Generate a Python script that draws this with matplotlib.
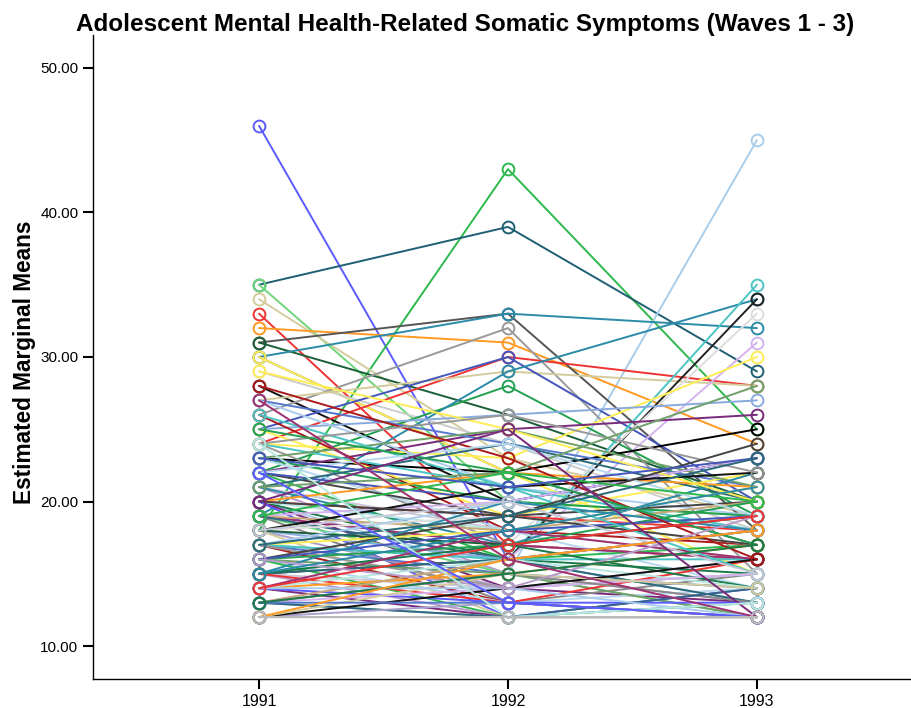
import matplotlib
matplotlib.use("Agg")
import matplotlib.pyplot as plt

plt.rcParams['font.family'] = ['Liberation Sans', 'DejaVu Sans']

waves = [1991, 1992, 1993]

# Per-subject scores for each wave (same index = same subject)
wave1 = [46, 18, 35, 35, 20, 34, 33, 32, 31, 31,
         30, 30, 30, 29, 28, 26, 24, 27, 22, 25,
         19, 17, 15, 14, 13, 24, 25, 23, 22, 27,
         27, 26, 25, 24, 24, 23, 23, 23, 22, 22,
         22, 21, 21, 21, 21, 20, 20, 20, 20, 20,
         20, 19, 19, 19, 19, 19, 19, 18, 18, 18,
         18, 18, 18, 17, 17, 17, 17, 17, 17, 16,
         16, 16, 16, 16, 16, 15, 15, 15, 15, 15,
         15, 14, 14, 14, 14, 14, 13, 13, 13, 13,
         13, 12, 12, 12, 12, 12, 12, 13, 14, 28,
         29, 26, 24, 25, 22, 21, 20, 19, 23, 18,
         17, 16, 15, 14, 13, 12, 20, 24, 22, 27,
         12, 12]
wave2 = [16, 43, 39, 20, 15, 23, 17, 31, 33, 26,
         33, 22, 22, 24, 20, 32, 30, 29, 28, 30,
         29, 16, 16, 17, 16, 23, 26, 22, 25, 24,
         21, 18, 19, 21, 17, 20, 18, 25, 19, 16,
         20, 18, 24, 15, 17, 19, 16, 22, 14, 18,
         12, 17, 20, 15, 18, 13, 16, 19, 14, 21,
         16, 12, 17, 15, 20, 13, 18, 16, 14, 17,
         13, 15, 19, 12, 18, 14, 16, 12, 20, 13,
         17, 15, 12, 16, 13, 18, 14, 12, 16, 15,
         12, 12, 13, 14, 12, 15, 12, 13, 14, 23,
         25, 21, 26, 22, 24, 22, 19, 22, 21, 20,
         19, 14, 18, 17, 15, 16, 25, 12, 13, 16,
         12, 12]
wave3 = [18, 25, 29, 19, 45, 19, 16, 24, 18, 20,
         32, 17, 15, 18, 23, 15, 28, 28, 19, 20,
         34, 35, 34, 33, 31, 30, 27, 25, 26, 21,
         19, 17, 22, 18, 16, 19, 14, 21, 20, 17,
         23, 16, 20, 13, 22, 18, 15, 21, 13, 19,
         14, 16, 23, 12, 20, 15, 18, 17, 16, 22,
         13, 12, 19, 14, 18, 12, 21, 16, 15, 20,
         14, 12, 17, 13, 19, 15, 13, 12, 18, 16,
         14, 17, 12, 14, 13, 16, 15, 12, 18, 13,
         14, 12, 12, 16, 13, 14, 12, 12, 12, 16,
         20, 15, 22, 17, 19, 28, 24, 20, 23, 15,
         23, 19, 21, 19, 17, 18, 12, 13, 12, 12,
         12, 12]

# Line colours, one per subject
colors = ['#5b5bff', '#2db84d', '#1f5f73', '#6fd67a', '#a8cdea', '#d4cc9c',
          '#ee3333', '#ff9922', '#555555', '#1a5e3a', '#2a8aa8', '#666666',
          '#ffee55', '#cccccc', '#111111', '#999999', '#ee3333', '#d4cc9c',
          '#22a050', '#4455bb', '#2a8aa8', '#4cc4c4', '#222222', '#dddddd',
          '#d4b4ee', '#ffee55', '#88aadd', '#000000', '#7a2a7a']
palette = ['#5577cc', '#aaccee', '#aa1a1a', '#ffee55', '#4cc4c4', '#999999',
           '#22a050', '#b8d8ee', '#6fa06a', '#444444', '#2db84d', '#4455bb',
           '#c8c8d8', '#2a6a7a', '#b89ac8', '#2a8aa8', '#ee3333', '#1a7a4a',
           '#ff9922', '#7a2a7a', '#b8e8e0', '#5b5bff', '#a03070', '#d4b4ee',
           '#6fd67a', '#c8a878', '#888888', '#336688', '#e0e0e0', '#aaa0cc',
           '#111111', '#88aadd', '#d4cc9c', '#1a5e3a']
i = 0
while len(colors) < len(wave1) - 2:
    colors.append(palette[i % len(palette)])
    i += 1
colors += ['#aaaacc', '#bbbbbb']

fig = plt.figure(figsize=(9.12, 7.08), dpi=100)
ax = fig.add_axes([93 / 912, 1 - 679 / 708, (910 - 93) / 912, (679 - 35) / 708])

for a, b, c, col in zip(wave1, wave2, wave3, colors):
    ax.plot(waves, [a, b, c], color=col, lw=1.4, marker='o', ms=8.5,
            mfc='none', mec=col, mew=1.4, solid_capstyle='round')

ax.set_xlim(1990.333, 1993.615)
ax.set_ylim(7.72, 52.28)
ax.set_xticks(waves)
ax.set_xticklabels([str(w) for w in waves])
ax.set_yticks([10, 20, 30, 40, 50])
ax.set_yticklabels(['10.00', '20.00', '30.00', '40.00', '50.00'])
ax.tick_params(axis='both', direction='out', length=7.5, width=1.5, labelsize=11.5, pad=3)
ax.tick_params(axis='y', labelsize=11)

for s in ['top', 'right']:
    ax.spines[s].set_visible(False)
for s in ['left', 'bottom']:
    ax.spines[s].set_linewidth(1.0)

fig.text(25 / 912, 1 - 362 / 708, 'Estimated Marginal Means', rotation=90,
         ha='center', va='center', fontsize=16.3, fontweight='bold')
fig.text(465 / 912, 1 - 25 / 708, 'Adolescent Mental Health-Related Somatic Symptoms (Waves 1 - 3)',
         ha='center', va='center', fontsize=17.5, fontweight='bold')

fig.savefig('out.png', dpi=100)
